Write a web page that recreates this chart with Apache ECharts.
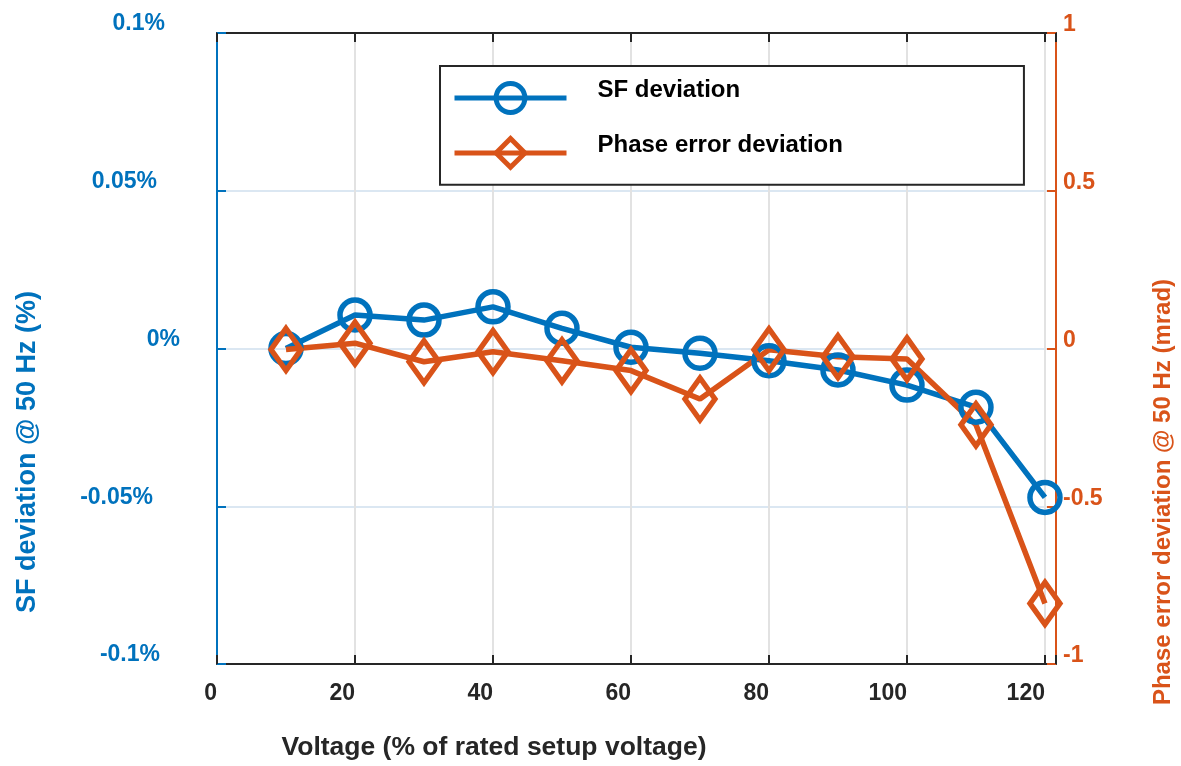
<!DOCTYPE html>
<html>
<head>
<meta charset="utf-8">
<script src="https://cdn.jsdelivr.net/npm/echarts@6/dist/echarts.min.js"></script>
<style>
  html, body { margin: 0; padding: 0; background: #fff; }
  #chart { width: 1181px; height: 766px; }
</style>
</head>
<body>
<div id="chart"></div>
<script>
// voltage (% of rated setup voltage)
var voltage = [10, 20, 30, 40, 50, 60, 70, 80, 90, 100, 110, 120];
// SF deviation @ 50 Hz (%)
var sfDeviation = [0.0000, 0.0106, 0.0090, 0.0132, 0.0064, 0.0004, -0.0015, -0.0039, -0.0068, -0.0116, -0.0186, -0.0472];
// phase error deviation @ 50 Hz (mrad)
var phaseDeviation = [-0.003, 0.017, -0.042, -0.010, -0.039, -0.070, -0.160, -0.004, -0.026, -0.033, -0.242, -0.808];
var xTicks = [0, 20, 40, 60, 80, 100, 120];
var sfTicks = ["-0.1%", "-0.05%", "0%", "0.05%", "0.1%"];
var phaseTicks = ["-1", "-0.5", "0", "0.5", "1"];

var BLUE = "#0072BD";
var ORANGE = "#D95319";
var DARK = "#262626";
var FONT = "'Liberation Sans', Arial, Helvetica, sans-serif";

function pairs(xs, ys) {
  var out = [];
  for (var i = 0; i < xs.length; i++) out.push([xs[i], ys[i]]);
  return out;
}

// little per-label nudges, the left labels are not lined up in the original
var leftPad = { "0.1%": 15, "0.05%": 23, "0%": 0, "-0.05%": 27, "-0.1%": 20 };
var leftRich = {};
sfTicks.forEach(function (t, i) {
  leftRich["l" + i] = {
    color: BLUE, fontWeight: "bold", fontSize: 23, fontFamily: FONT,
    padding: [0, leftPad[t], 18, 0]
  };
});
var rightRich = {
  r: { color: ORANGE, fontWeight: "bold", fontSize: 23, fontFamily: FONT, padding: [0, 0, 16, 0] }
};

var chart = echarts.init(document.getElementById("chart"));

var option = {
  animation: false,
  backgroundColor: "#fff",
  grid: { left: 217, right: 125, top: 33, bottom: 102 },
  legend: {
    left: 440,
    top: 66,
    orient: "vertical",
    itemWidth: 112,
    itemHeight: 36,
    itemGap: 18,
    padding: [12, 181, 15, 12],
    backgroundColor: "#fff",
    borderColor: DARK,
    borderWidth: 2,
    borderRadius: 0,
    lineStyle: { width: 5 },
    itemStyle: { borderWidth: 5 },
    formatter: function (name) { return "{t|" + name + "}"; },
    textStyle: {
      rich: {
        t: {
          color: "#000", fontSize: 24, fontWeight: "bold", fontFamily: FONT,
          padding: [0, 0, 16, 26]
        }
      }
    },
    data: ["SF deviation", "Phase error deviation"]
  },
  xAxis: [
    {
      type: "value",
      min: 0,
      max: 121.6,
      interval: 20,
      axisLine: { onZero: false, lineStyle: { color: DARK, width: 2 } },
      axisTick: { inside: true, length: 9, lineStyle: { color: DARK, width: 2 } },
      axisLabel: {
        color: DARK, fontSize: 23, fontWeight: "bold", fontFamily: FONT,
        margin: 18, align: "right",
        formatter: function (v) { return xTicks.indexOf(v) >= 0 ? String(v) : ""; }
      },
      splitLine: { show: true, lineStyle: { color: "#e2e2e2", width: 2 } }
    },
    {
      type: "value",
      position: "top",
      min: 0,
      max: 121.6,
      interval: 20,
      axisLine: { onZero: false, lineStyle: { color: DARK, width: 2 } },
      axisTick: { inside: true, length: 9, lineStyle: { color: DARK, width: 2 } },
      axisLabel: { show: false },
      splitLine: { show: false }
    }
  ],
  yAxis: [
    {
      type: "value",
      position: "left",
      min: -0.1,
      max: 0.1,
      interval: 0.05,
      axisLine: { show: true, onZero: false, lineStyle: { color: BLUE, width: 2 } },
      axisTick: { show: true, inside: true, length: 9, lineStyle: { color: BLUE, width: 2 } },
      axisLabel: {
        margin: 37,
        align: "right",
        formatter: function (v) {
          var k = Math.round((v + 0.1) / 0.05);
          return "{l" + k + "|" + sfTicks[k] + "}";
        },
        rich: leftRich
      },
      splitLine: { show: true, lineStyle: { color: "#dbe7f2", width: 2 } }
    },
    {
      type: "value",
      position: "right",
      min: -1,
      max: 1,
      interval: 0.5,
      axisLine: { show: true, onZero: false, lineStyle: { color: ORANGE, width: 2 } },
      axisTick: { show: true, inside: true, length: 9, lineStyle: { color: ORANGE, width: 2 } },
      axisLabel: {
        margin: 7,
        formatter: function (v) {
          var k = Math.round((v + 1) / 0.5);
          return "{r|" + phaseTicks[k] + "}";
        },
        rich: rightRich
      },
      splitLine: { show: false }
    }
  ],
  series: [
    {
      name: "SF deviation",
      type: "line",
      xAxisIndex: 0,
      yAxisIndex: 0,
      data: pairs(voltage, sfDeviation),
      symbol: "circle",
      symbolSize: 30,
      lineStyle: { color: BLUE, width: 5.5 },
      itemStyle: { color: "rgba(255,255,255,0)", borderColor: BLUE, borderWidth: 5.5 },
      emphasis: { disabled: true }
    },
    {
      name: "Phase error deviation",
      type: "line",
      xAxisIndex: 0,
      yAxisIndex: 1,
      data: pairs(voltage, phaseDeviation),
      symbol: "diamond",
      symbolSize: [30, 42],
      lineStyle: { color: ORANGE, width: 5.5 },
      itemStyle: { color: "rgba(255,255,255,0)", borderColor: ORANGE, borderWidth: 5.5 },
      emphasis: { disabled: true }
    }
  ],
  graphic: [
    {
      type: "text",
      x: 494, y: 748,
      style: {
        text: "Voltage (% of rated setup voltage)",
        fill: DARK, font: "bold 26.5px " + FONT,
        textAlign: "center", textVerticalAlign: "middle"
      }
    },
    {
      type: "text",
      x: 28, y: 452,
      rotation: Math.PI / 2,
      style: {
        text: "SF deviation @ 50 Hz (%)",
        fill: BLUE, font: "bold 27px " + FONT,
        textAlign: "center", textVerticalAlign: "middle"
      }
    },
    {
      type: "text",
      x: 1163, y: 492,
      rotation: Math.PI / 2,
      style: {
        text: "Phase error deviation @ 50 Hz (mrad)",
        fill: ORANGE, font: "bold 24px " + FONT,
        textAlign: "center", textVerticalAlign: "middle"
      }
    }
  ]
};

chart.setOption(option);
</script>
</body>
</html>
